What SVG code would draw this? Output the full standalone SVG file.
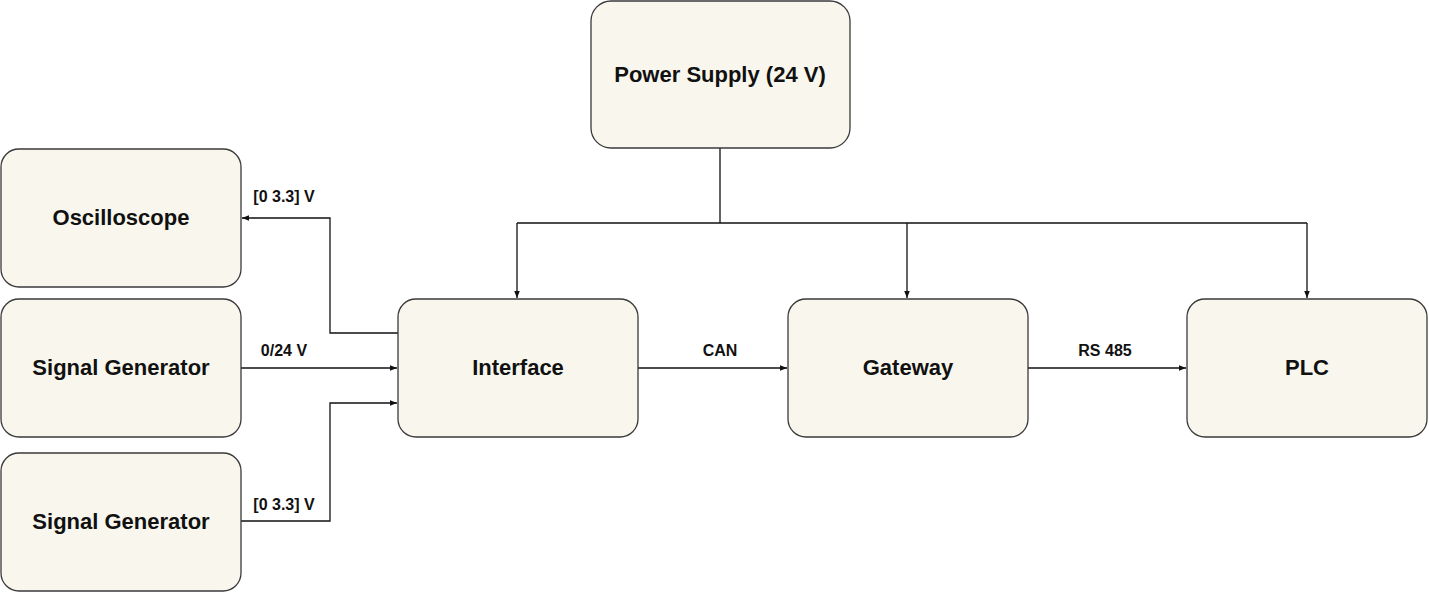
<svg xmlns="http://www.w3.org/2000/svg" width="1429" height="592" viewBox="0 0 1429 592">
<style>
.n rect{fill:#f9f7ed;stroke:#3a3a3a;stroke-width:1.3}
.n text{font-family:"Liberation Sans",Arial,sans-serif;font-weight:bold;font-size:22px;text-anchor:middle;dominant-baseline:middle;fill:#111}
.c path{fill:none;stroke:#111;stroke-width:1.3}
.l{font-family:"Liberation Sans",Arial,sans-serif;font-weight:bold;font-size:16px;text-anchor:middle;fill:#111}
</style>
<defs><marker id="a" viewBox="0 0 10 10" refX="10" refY="5" markerWidth="7" markerHeight="7" orient="auto" markerUnits="userSpaceOnUse"><path d="M0,1 L10,5 L0,9 Z" fill="#111"/></marker></defs>
<rect width="1429" height="592" fill="#fff"/>
<g class="c">
<path d="M720,148 V223 M517,223 H1307"/>
<path d="M517,223 V298" marker-end="url(#a)"/>
<path d="M907,223 V298" marker-end="url(#a)"/>
<path d="M1307,223 V298" marker-end="url(#a)"/>
<path d="M398,333 H330 V218 H242" marker-end="url(#a)"/>
<path d="M241,368 H397" marker-end="url(#a)"/>
<path d="M241,521 H330 V403 H397" marker-end="url(#a)"/>
<path d="M638,368 H787" marker-end="url(#a)"/>
<path d="M1028,368 H1186" marker-end="url(#a)"/>
</g>
<text class="l" x="284" y="202">[0 3.3] V</text>
<text class="l" x="284" y="356">0/24 V</text>
<text class="l" x="284" y="510">[0 3.3] V</text>
<text class="l" x="720" y="356">CAN</text>
<text class="l" x="1105" y="356">RS 485</text>
<g id="power" class="n"><rect x="591" y="1" width="259" height="147" rx="20"/><text x="720" y="76">Power Supply (24 V)</text></g>
<g id="osc" class="n"><rect x="1" y="149" width="240" height="138" rx="18"/><text x="121" y="219">Oscilloscope</text></g>
<g id="sg1" class="n"><rect x="1" y="299" width="240" height="138" rx="18"/><text x="121" y="369">Signal Generator</text></g>
<g id="sg2" class="n"><rect x="1" y="453" width="240" height="138" rx="18"/><text x="121" y="523">Signal Generator</text></g>
<g id="iface" class="n"><rect x="398" y="299" width="240" height="138" rx="18"/><text x="518" y="369">Interface</text></g>
<g id="gw" class="n"><rect x="788" y="299" width="240" height="138" rx="18"/><text x="908" y="369">Gateway</text></g>
<g id="plc" class="n"><rect x="1187" y="299" width="240" height="138" rx="18"/><text x="1307" y="369">PLC</text></g>
</svg>
